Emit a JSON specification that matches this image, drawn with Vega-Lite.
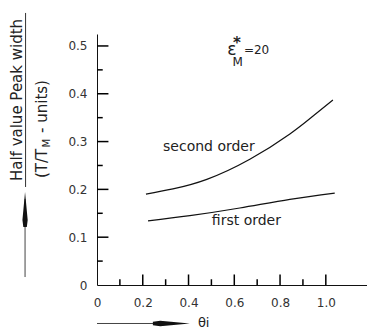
{
  "$schema": "https://vega.github.io/schema/vega-lite/v6.json",
  "width": 270,
  "height": 251,
  "autosize": {"type": "none"},
  "padding": {"left": 97, "top": 34, "right": 0, "bottom": 44},
  "background": "white",
  "config": {
    "view": {"stroke": null},
    "font": "DejaVu Sans",
    "text": {"font": "DejaVu Sans", "color": "#222"}
  },
  "layer": [
    {
      "data": {"values": [
        {"series": "second order", "theta": 0.214, "width": 0.190},
        {"series": "second order", "theta": 0.332, "width": 0.201},
        {"series": "second order", "theta": 0.480, "width": 0.221},
        {"series": "second order", "theta": 0.668, "width": 0.263},
        {"series": "second order", "theta": 0.843, "width": 0.316},
        {"series": "second order", "theta": 0.943, "width": 0.353},
        {"series": "second order", "theta": 1.031, "width": 0.387},
        {"series": "first order", "theta": 0.223, "width": 0.134},
        {"series": "first order", "theta": 0.406, "width": 0.145},
        {"series": "first order", "theta": 0.624, "width": 0.161},
        {"series": "first order", "theta": 0.843, "width": 0.179},
        {"series": "first order", "theta": 1.039, "width": 0.192}
      ]},
      "mark": {"type": "line", "interpolate": "natural", "color": "#111", "strokeWidth": 1.2},
      "encoding": {
        "detail": {"field": "series", "type": "nominal"},
        "x": {
          "field": "theta", "type": "quantitative",
          "scale": {"domain": [0, 1.18], "nice": false, "zero": false},
          "axis": {
            "title": null, "grid": false, "ticks": false,
            "values": [0, 0.2, 0.4, 0.6, 0.8, 1.0],
            "labelExpr": "datum.value == 0 ? '0' : format(datum.value, '.1f')",
            "domainColor": "#111",
            "labelPadding": 12, "labelFontSize": 12, "labelColor": "#333",
            "labelFont": "DejaVu Sans", "labelFlush": false, "labelOverlap": false
          }
        },
        "y": {
          "field": "width", "type": "quantitative",
          "scale": {"domain": [0, 0.525], "nice": false, "zero": false},
          "axis": {
            "title": null, "grid": false, "ticks": false,
            "values": [0, 0.1, 0.2, 0.3, 0.4, 0.5],
            "labelExpr": "datum.value == 0 ? '0' : format(datum.value, '.1f')",
            "domainColor": "#111",
            "labelPadding": 10, "labelFontSize": 12, "labelColor": "#333",
            "labelFont": "DejaVu Sans", "labelFlush": false, "labelOverlap": false
          }
        }
      }
    },
    {
      "data": {"values": [{"tick": 0.2}, {"tick": 0.4}, {"tick": 0.6}, {"tick": 0.8}, {"tick": 1.0}]},
      "mark": {"type": "rule", "color": "#000", "strokeWidth": 1.5},
      "encoding": {"x": {"field": "tick", "type": "quantitative"}, "y": {"datum": 0}, "y2": {"datum": 0.022}}
    },
    {
      "data": {"values": [{"tick": 0.1}, {"tick": 0.3}, {"tick": 0.5}, {"tick": 0.7}, {"tick": 0.9}]},
      "mark": {"type": "rule", "color": "#000", "strokeWidth": 1.5},
      "encoding": {"x": {"field": "tick", "type": "quantitative"}, "y": {"datum": 0}, "y2": {"datum": 0.012}}
    },
    {
      "data": {"values": [{"tick": 0.1}, {"tick": 0.2}, {"tick": 0.3}, {"tick": 0.4}, {"tick": 0.5}]},
      "mark": {"type": "rule", "color": "#000", "strokeWidth": 1.5},
      "encoding": {"y": {"field": "tick", "type": "quantitative"}, "x": {"datum": 0}, "x2": {"datum": 0.05}}
    },
    {
      "data": {"values": [{"tick": 0.05}, {"tick": 0.15}, {"tick": 0.25}, {"tick": 0.35}, {"tick": 0.45}]},
      "mark": {"type": "rule", "color": "#000", "strokeWidth": 1.5},
      "encoding": {"y": {"field": "tick", "type": "quantitative"}, "x": {"datum": 0}, "x2": {"datum": 0.025}}
    },
    {
      "data": {"values": [{}]},
      "mark": {"type": "text", "fontSize": 14, "align": "center", "baseline": "middle"},
      "encoding": {"x": {"datum": 0.489}, "y": {"datum": 0.2887}, "text": {"value": "second order"}}
    },
    {
      "data": {"values": [{}]},
      "mark": {"type": "text", "fontSize": 14, "align": "center", "baseline": "middle"},
      "encoding": {"x": {"datum": 0.653}, "y": {"datum": 0.134}, "text": {"value": "first order"}}
    },
    {
      "data": {"values": [{}]},
      "mark": {"type": "text", "fontSize": 17, "align": "center", "baseline": "middle"},
      "encoding": {"x": {"datum": 0.5895}, "y": {"datum": 0.4916}, "text": {"value": "ε"}}
    },
    {
      "data": {"values": [{}]},
      "mark": {"type": "text", "fontSize": 15, "fontWeight": "bold", "align": "center", "baseline": "alphabetic"},
      "encoding": {"x": {"datum": 0.6114}, "y": {"datum": 0.4960}, "text": {"value": "*"}}
    },
    {
      "data": {"values": [{}]},
      "mark": {"type": "text", "fontSize": 12, "align": "center", "baseline": "middle"},
      "encoding": {"x": {"datum": 0.6153}, "y": {"datum": 0.4666}, "text": {"value": "M"}}
    },
    {
      "data": {"values": [{}]},
      "mark": {"type": "text", "fontSize": 12, "align": "left", "baseline": "middle"},
      "encoding": {"x": {"datum": 0.6420}, "y": {"datum": 0.4916}, "text": {"value": "=20"}}
    },
    {
      "data": {"values": [{}]},
      "mark": {"type": "text", "fontSize": 15, "angle": 270, "align": "center", "baseline": "alphabetic"},
      "encoding": {"x": {"datum": -0.3275}, "y": {"datum": 0.387}, "text": {"value": "Half value Peak width"}}
    },
    {
      "data": {"values": [{}]},
      "mark": {"type": "rule", "color": "#333", "strokeWidth": 1},
      "encoding": {"x": {"datum": -0.3122}, "y": {"datum": 0.5690}, "y2": {"datum": 0.2050}}
    },
    {
      "data": {"values": [{}]},
      "mark": {"type": "text", "fontSize": 15, "angle": 270, "align": "left", "baseline": "alphabetic"},
      "encoding": {"x": {"datum": -0.2183}, "y": {"datum": 0.2238}, "text": {"value": "(T/T"}}
    },
    {
      "data": {"values": [{}]},
      "mark": {"type": "text", "fontSize": 10, "angle": 270, "align": "left", "baseline": "alphabetic"},
      "encoding": {"x": {"datum": -0.205}, "y": {"datum": 0.2877}, "text": {"value": "M"}}
    },
    {
      "data": {"values": [{}]},
      "mark": {"type": "text", "fontSize": 15, "angle": 270, "align": "left", "baseline": "alphabetic"},
      "encoding": {"x": {"datum": -0.2183}, "y": {"datum": 0.3180}, "text": {"value": "- units)"}}
    },
    {
      "data": {"values": [{}]},
      "mark": {"type": "rule", "color": "#444", "strokeWidth": 1},
      "encoding": {"x": {"datum": -0.3144}, "y": {"datum": 0.0167}, "y2": {"datum": 0.1800}}
    },
    {
      "data": {"values": [{}]},
      "mark": {"type": "point", "shape": "M 0 -1 L 0.15 0.6 L 0.1 1 L -0.1 1 L -0.15 0.6 Z", "filled": true, "opacity": 1, "color": "#111", "size": 1225},
      "encoding": {"x": {"datum": -0.3144}, "y": {"datum": 0.158}}
    },
    {
      "data": {"values": [{}]},
      "mark": {"type": "rule", "color": "#444", "strokeWidth": 1},
      "encoding": {"x": {"datum": 0}, "x2": {"datum": 0.34}, "y": {"datum": -0.0805}}
    },
    {
      "data": {"values": [{}]},
      "mark": {"type": "point", "shape": "M 1 0 L -0.6 -0.15 L -1 -0.1 L -1 0.1 L -0.6 0.15 Z", "filled": true, "opacity": 1, "color": "#111", "size": 1369},
      "encoding": {"x": {"datum": 0.325}, "y": {"datum": -0.0805}}
    },
    {
      "data": {"values": [{}]},
      "mark": {"type": "text", "fontSize": 13, "align": "left", "baseline": "middle"},
      "encoding": {"x": {"datum": 0.441}, "y": {"datum": -0.0805}, "text": {"value": "θi"}}
    }
  ]
}
